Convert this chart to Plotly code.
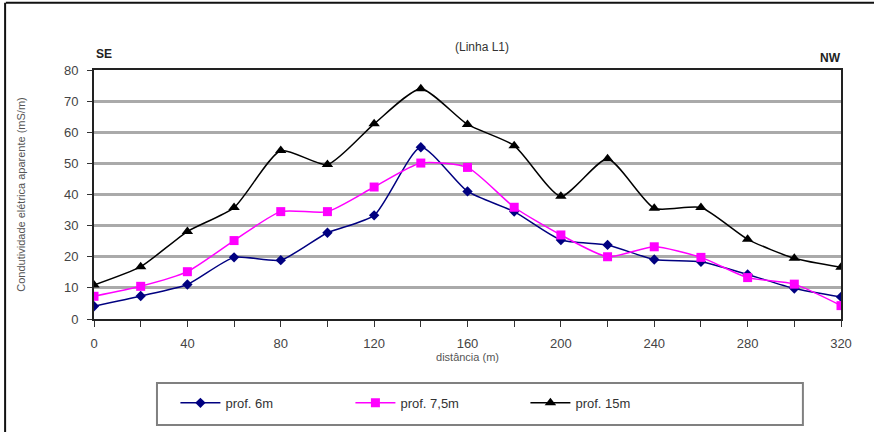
import plotly.graph_objects as go

# Distance along the profile line (m)
distancia = [0, 20, 40, 60, 80, 100, 120, 140, 160, 180, 200, 220, 240, 260, 280, 300, 320]

# Apparent electrical conductivity (mS/m) at each exploration depth
prof_6m = [4.1, 7.4, 11.1, 19.8, 18.9, 27.7, 33.3, 55.2, 41.0, 34.5, 25.4, 23.8, 19.1, 18.4, 14.3, 9.8, 7.1]
prof_7_5m = [7.3, 10.5, 15.2, 25.2, 34.5, 34.5, 42.4, 50.1, 48.7, 35.9, 27.0, 20.0, 23.2, 19.8, 13.3, 11.2, 4.3]
prof_15m = [10.9, 16.8, 28.1, 35.8, 54.1, 49.6, 62.7, 74.0, 62.5, 55.7, 39.4, 51.5, 35.6, 35.8, 25.6, 19.5, 16.6]

x_ticks = [0, 20, 40, 60, 80, 100, 120, 140, 160, 180, 200, 220, 240, 260, 280, 300, 320]
x_labels = ["0", "", "40", "", "80", "", "120", "", "160", "", "200", "", "240", "", "280", "", "320"]
y_ticks = [0, 10, 20, 30, 40, 50, 60, 70, 80]

FONT = "Liberation Sans, Arial, sans-serif"

fig = go.Figure()

series = [
    ("prof. 6m", prof_6m, "#000080", dict(symbol="diamond", size=8)),
    ("prof. 7,5m", prof_7_5m, "#FF00FF", dict(symbol="square", size=9)),
    ("prof. 15m", prof_15m, "#000000", dict(symbol="triangle-up", size=10)),
]
for name, values, color, marker in series:
    fig.add_trace(go.Scatter(
        x=distancia, y=values, name=name, mode="lines+markers",
        line=dict(color=color, width=1.5, shape="spline", smoothing=0.6),
        marker=dict(color=color, **marker),
    ))

fig.update_layout(
    width=874, height=432,
    margin=dict(l=94, r=33, t=70, b=113, autoexpand=False),
    paper_bgcolor="white", plot_bgcolor="white",
    font=dict(family=FONT, color="#333333"),
    showlegend=True,
    legend=dict(
        orientation="h", x=0.109, y=-0.337, xanchor="left", yanchor="middle",
        entrywidth=120, entrywidthmode="pixels",
        borderwidth=0, bgcolor="rgba(0,0,0,0)",
        font=dict(size=13, color="#333333", family=FONT),
        itemwidth=40,
    ),
    xaxis=dict(
        range=[0, 320], tickvals=x_ticks, ticktext=x_labels,
        ticks="outside", ticklen=6, tickcolor="#333333", tickwidth=1,
        ticklabelstandoff=5,
        showgrid=False, zeroline=False,
        showline=True, linecolor="#222222", linewidth=2, mirror=True,
        tickfont=dict(size=13, color="#444444"),
        title=dict(text="distância (m)", font=dict(size=11, color="#555555"), standoff=4),
    ),
    yaxis=dict(
        range=[0, 80], tickvals=y_ticks,
        ticks="outside", ticklen=5, tickcolor="#333333", tickwidth=1,
        ticklabelstandoff=6,
        showgrid=True, gridcolor="#AAAAAA", gridwidth=3, zeroline=False,
        showline=True, linecolor="#222222", linewidth=2, mirror=True,
        tickfont=dict(size=13, color="#444444"),
        title=dict(text="Condutividade elétrica aparente (mS/m)", font=dict(size=11, color="#555555"), standoff=36),
    ),
)

# Outer frame lines (left and top)
fig.add_shape(type="line", xref="paper", yref="paper", x0=-0.118, x1=1.05, y0=1.27, y1=1.27,
              line=dict(color="#111111", width=2))
fig.add_shape(type="line", xref="paper", yref="paper", x0=-0.119, x1=-0.119, y0=1.27, y1=-0.5,
              line=dict(color="#111111", width=2))

# Legend frame
fig.add_shape(type="rect", xref="paper", yref="paper", x0=0.0843, x1=0.949, y0=-0.257, y1=-0.426,
              line=dict(color="#808080", width=2))

# Orientation and line labels
fig.add_annotation(text="<b>SE</b>", x=0, y=1.03, xref="paper", yref="paper",
                   xanchor="left", yanchor="bottom", showarrow=False,
                   font=dict(size=12, color="#222222"))
fig.add_annotation(text="<b>NW</b>", x=1.003, y=1.012, xref="paper", yref="paper",
                   xanchor="right", yanchor="bottom", showarrow=False,
                   font=dict(size=12, color="#222222"))
fig.add_annotation(text="(Linha L1)", x=0.52, y=1.056, xref="paper", yref="paper",
                   xanchor="center", yanchor="bottom", showarrow=False,
                   font=dict(size=12, color="#333333"))

fig.write_html("out.html")
